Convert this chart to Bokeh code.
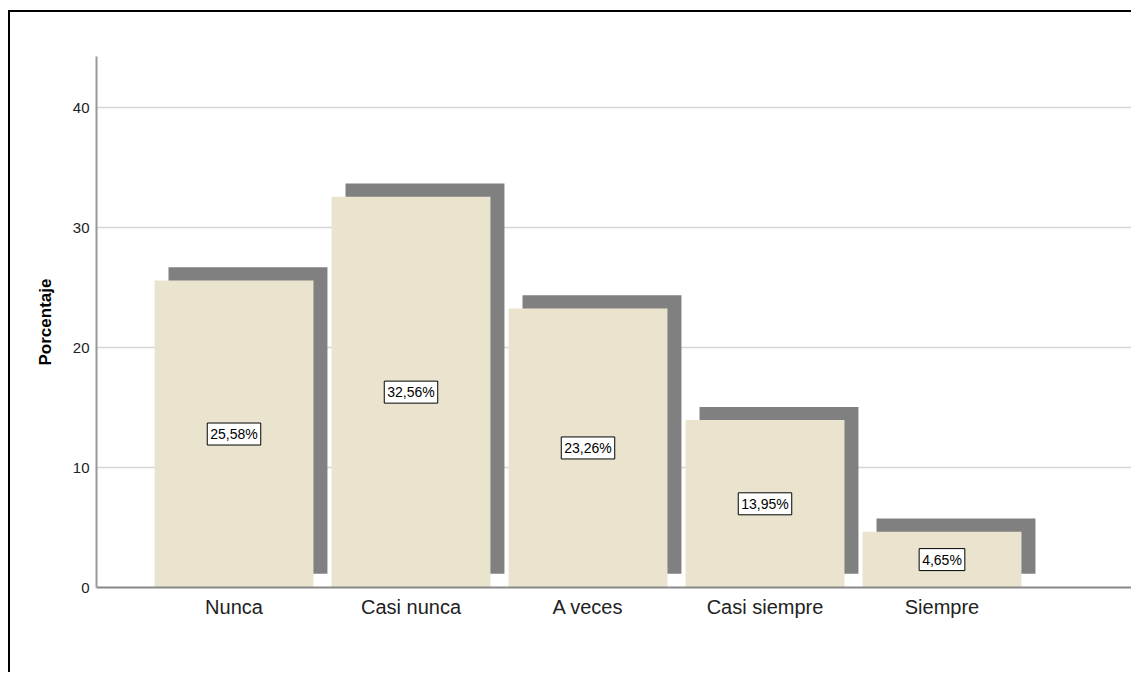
from bokeh.plotting import figure
from bokeh.models import Range1d, FixedTicker, ColumnDataSource
from bokeh.core.properties import value
from bokeh.embed import file_html
from bokeh.resources import INLINE

# ---- data ----
categories = ["Nunca", "Casi nunca", "A veces", "Casi siempre", "Siempre"]
percentages = [25.58, 32.56, 23.26, 13.95, 4.65]
labels = ["25,58%", "32,56%", "23,26%", "13,95%", "4,65%"]
y_ticks = [0, 10, 20, 30, 40]

# ---- style ----
FONT = "Liberation Sans"
BAR = "#EAE4CF"
SHADOW = "#808080"
bar_w = 0.898
sh_dx = 0.079
sh_dy = 1.1
sh_bottom = 1.15

xs = list(range(len(categories)))
src = ColumnDataSource(dict(
    x=xs,
    top=percentages,
    left=[x - bar_w / 2 for x in xs],
    right=[x + bar_w / 2 for x in xs],
    sleft=[x - bar_w / 2 + sh_dx for x in xs],
    sright=[x + bar_w / 2 + sh_dx for x in xs],
    stop=[v + sh_dy for v in percentages],
    sbottom=[sh_bottom] * len(xs),
    mid=[v / 2 for v in percentages],
    lab=labels,
))

p = figure(width=1123, height=662, output_backend="svg", toolbar_location=None,
           x_range=Range1d(-0.7768, 5.0763), y_range=Range1d(0, 44.25),
           min_border_left=86, min_border_top=44, min_border_bottom=87,
           min_border_right=1)
p.styles = {"border-left": "2px solid black", "border-top": "2px solid black",
            "margin-left": "8px", "margin-top": "10px"}
p.outline_line_color = None
p.background_fill_color = "white"
p.border_fill_color = "white"

# shadows then bars
p.quad(left="sleft", right="sright", bottom="sbottom", top="stop", source=src,
       fill_color=SHADOW, line_color=None)
p.quad(left="left", right="right", bottom=0, top="top", source=src,
       fill_color=BAR, line_color=None)

p.text(x="x", y="mid", text="lab", source=src, text_align="center",
       text_baseline="middle", text_font=value(FONT), text_font_size="14px",
       text_color="black", background_fill_color="white",
       border_line_color="black", border_line_width=1, padding=3)

# axes
p.xaxis.ticker = FixedTicker(ticks=xs)
p.xaxis.major_label_overrides = {i: c for i, c in enumerate(categories)}
p.xaxis.major_tick_line_color = None
p.xaxis.minor_tick_line_color = None
p.xaxis.major_tick_out = 0
p.xaxis.major_label_standoff = 8
p.xaxis.major_label_text_font = FONT
p.xaxis.major_label_text_font_size = "20px"
p.xaxis.major_label_text_color = "#222222"
p.xaxis.axis_line_color = "#888888"
p.xaxis.axis_line_width = 2

p.yaxis.ticker = FixedTicker(ticks=y_ticks)
p.yaxis.major_tick_line_color = None
p.yaxis.minor_tick_line_color = None
p.yaxis.major_tick_out = 0
p.yaxis.major_label_standoff = 7
p.yaxis.major_label_text_font = FONT
p.yaxis.major_label_text_font_size = "15px"
p.yaxis.major_label_text_color = "#222222"
p.yaxis.axis_line_color = "#999999"
p.yaxis.axis_line_width = 2
p.yaxis.axis_label = "Porcentaje"
p.yaxis.axis_label_text_font = FONT
p.yaxis.axis_label_text_font_style = "bold"
p.yaxis.axis_label_text_font_size = "17px"
p.yaxis.axis_label_text_color = "black"
p.yaxis.axis_label_standoff = 15

p.xgrid.grid_line_color = None
p.ygrid.ticker = FixedTicker(ticks=y_ticks[1:])
p.ygrid.grid_line_color = "#D6D6D6"
p.ygrid.grid_line_width = 1.5

open("out.html", "w").write(file_html(p, INLINE))
